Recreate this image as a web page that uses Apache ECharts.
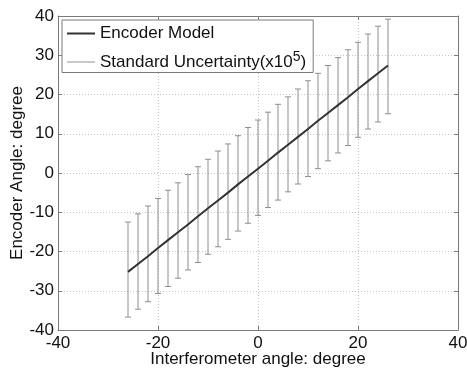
<!DOCTYPE html>
<html>
<head>
<meta charset="utf-8">
<script src="https://cdn.jsdelivr.net/npm/echarts@6/dist/echarts.min.js"></script>
<style>
  html, body { margin: 0; padding: 0; background: #fff; }
  #chart { width: 467px; height: 369px; }
</style>
</head>
<body>
<div id="chart"></div>
<script>
// interferometer angle (degree)
const angles = [-26, -24, -22, -20, -18, -16, -14, -12, -10, -8, -6, -4, -2, 0,
  2, 4, 6, 8, 10, 12, 14, 16, 18, 20, 22, 24, 26];
// encoder model output
const modelValues = [-25.2, -23.2, -21.2, -19.1, -17.1, -15.1, -13.1, -11.0, -9.0, -7.0,
  -5.0, -2.9, -0.9, 1.1, 3.1, 5.2, 7.2, 9.2, 11.2, 13.3, 15.3, 17.3, 19.3, 21.4, 23.4, 25.4, 27.4];
// uncertainty band ends (x10^5)
const upperValues = [-12.5, -10.4, -8.4, -6.5, -4.4, -2.5, -0.4, 1.6, 3.5, 5.6, 7.4, 9.5,
  11.6, 13.5, 15.5, 17.5, 19.4, 21.4, 23.5, 25.4, 27.4, 29.4, 31.4, 33.3, 35.4, 37.4, 39.2];
const lowerValues = [-36.7, -34.7, -32.8, -30.7, -28.9, -26.8, -24.7, -22.8, -20.7, -18.8,
  -16.9, -14.8, -12.8, -10.8, -8.8, -6.9, -4.8, -2.8, -0.9, 1.1, 3.1, 5.1, 7.0, 9.1, 11.2, 13.0, 15.1];

const chart = echarts.init(document.getElementById('chart'));

const font = 'Liberation Sans, Arial, sans-serif';
const boxColor = '#7a7a7a';
const textColor = '#111';

const baseAxis = {
  min: -40,
  max: 40,
  axisLine: { show: true, onZero: false, lineStyle: { color: boxColor, width: 1 } },
  axisTick: { show: true, inside: true, length: 4, lineStyle: { color: boxColor } },
  splitLine: { show: false }
};

const gridLine = { show: true, lineStyle: { color: '#c4c4c4', type: [1, 2], width: 1 } };

const option = {
  animation: false,
  grid: { left: 58, right: 9, top: 16, bottom: 39, containLabel: false, outerBoundsMode: 'none' },
  legend: {
    orient: 'vertical',
    left: 62,
    top: 20,
    padding: [5, 7, 2, 5],
    itemGap: 8,
    itemWidth: 28,
    itemHeight: 2,
    backgroundColor: '#fff',
    borderColor: boxColor,
    borderWidth: 1,
    borderRadius: 0,
    textStyle: {
      fontFamily: font,
      fontSize: 17,
      color: textColor,
      rich: {
        a: { fontFamily: font, fontSize: 17, color: textColor },
        s: { fontFamily: font, fontSize: 14, color: textColor, verticalAlign: 'top', padding: [0, 0, 10, 0] }
      }
    },
    formatter: function (name) {
      if (name === 'Standard Uncertainty') {
        return '{a|Standard Uncertainty(x10}{s|5}{a|)}';
      }
      return name;
    },
    data: [
      { name: 'Encoder Model', icon: 'rect', itemStyle: { color: '#333' } },
      { name: 'Standard Uncertainty', icon: 'rect', itemStyle: { color: '#c8c8c8' } }
    ]
  },
  xAxis: [
    Object.assign({}, baseAxis, {
      type: 'value',
      position: 'bottom',
      interval: 20,
      name: 'Interferometer angle: degree',
      nameLocation: 'middle',
      nameGap: 21,
      nameMoveOverlap: false,
      nameTextStyle: { fontFamily: font, fontSize: 17, color: textColor },
      axisLabel: { fontFamily: font, fontSize: 17, color: textColor, margin: 5 },
      splitLine: gridLine
    }),
    Object.assign({}, baseAxis, {
      type: 'value',
      position: 'top',
      interval: 20,
      axisLabel: { show: false }
    })
  ],
  yAxis: [
    Object.assign({}, baseAxis, {
      type: 'value',
      position: 'left',
      interval: 10,
      name: 'Encoder Angle: degree',
      nameLocation: 'middle',
      nameGap: 32,
      nameMoveOverlap: false,
      nameTextStyle: { fontFamily: font, fontSize: 17, color: textColor },
      axisLabel: { fontFamily: font, fontSize: 17, color: textColor, margin: 4 },
      splitLine: gridLine
    }),
    Object.assign({}, baseAxis, {
      type: 'value',
      position: 'right',
      interval: 10,
      axisLabel: { show: false }
    })
  ],
  series: [
    {
      name: 'Standard Uncertainty',
      type: 'custom',
      xAxisIndex: 0,
      yAxisIndex: 0,
      data: angles.map((a, i) => [a, lowerValues[i], upperValues[i]]),
      encode: { x: 0, y: [1, 2] },
      renderItem: function (params, api) {
        const lo = api.coord([api.value(0), api.value(1)]);
        const hi = api.coord([api.value(0), api.value(2)]);
        const cap = 3;
        const style = { stroke: '#8e8e8e', lineWidth: 1 };
        return {
          type: 'group',
          children: [
            { type: 'line', shape: { x1: lo[0], y1: lo[1], x2: hi[0], y2: hi[1] }, style: style },
            { type: 'line', shape: { x1: lo[0] - cap, y1: lo[1], x2: lo[0] + cap, y2: lo[1] }, style: style },
            { type: 'line', shape: { x1: hi[0] - cap, y1: hi[1], x2: hi[0] + cap, y2: hi[1] }, style: style }
          ]
        };
      },
      z: 2
    },
    {
      name: 'Encoder Model',
      type: 'line',
      xAxisIndex: 0,
      yAxisIndex: 0,
      data: angles.map((a, i) => [a, modelValues[i]]),
      showSymbol: false,
      lineStyle: { color: '#333', width: 2 },
      z: 3
    }
  ]
};

chart.setOption(option);
</script>
</body>
</html>
